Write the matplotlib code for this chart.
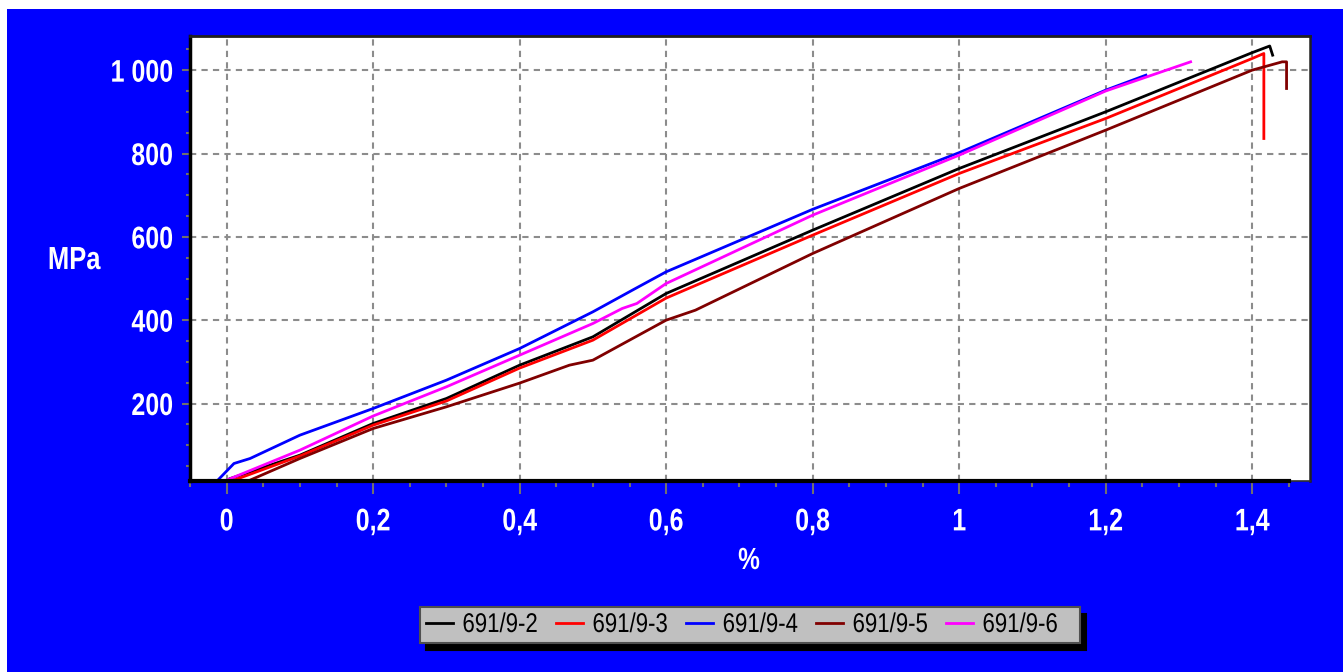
import numpy as np
import matplotlib
matplotlib.use("Agg")
import matplotlib.pyplot as plt
import matplotlib.patheffects as pe
from matplotlib.patches import Rectangle
from matplotlib.transforms import Affine2D

#####################       DATA          ##########################
# strain in %, stress in MPa
x_2 = [0.005, 0.1, 0.2, 0.3, 0.4, 0.5, 0.6, 0.8, 1.0, 1.2, 1.4, 1.424, 1.428]
y_2 = [20, 76, 152, 212, 292, 360, 464, 616, 764, 900, 1042, 1058, 1036]

x_3 = [0.01, 0.1, 0.2, 0.3, 0.4, 0.5, 0.6, 0.8, 1.0, 1.2, 1.4, 1.416, 1.416]
y_3 = [16, 74, 148, 206, 285, 352, 453, 604, 752, 884, 1028, 1040, 836]

x_4 = [-0.012, 0.01, 0.032, 0.1, 0.2, 0.3, 0.4, 0.5, 0.556, 0.6, 0.8, 1.0, 1.2, 1.255]
y_4 = [16, 56, 68, 124, 188, 256, 332, 420, 474, 516, 666, 802, 952, 988]

x_5 = [0.032, 0.1, 0.2, 0.3, 0.4, 0.468, 0.5, 0.6, 0.64, 0.8, 1.0, 1.2, 1.4, 1.441, 1.447, 1.447]
y_5 = [16, 68, 140, 192, 249, 292, 304, 400, 424, 560, 716, 856, 1000, 1020, 1020, 956]

x_6 = [0.0, 0.1, 0.2, 0.3, 0.4, 0.5, 0.54, 0.56, 0.6, 0.8, 1.0, 1.2, 1.316]
y_6 = [16, 88, 170, 240, 316, 392, 428, 440, 488, 652, 796, 950, 1020]

labels = ["691/9-2", "691/9-3", "691/9-4", "691/9-5", "691/9-6"]
colors = ["black", "#ff0000", "#0000ff", "#800000", "#ff00ff"]

x_ticks = [0, 0.2, 0.4, 0.6, 0.8, 1.0, 1.2, 1.4]
x_ticklabels = ["0", "0,2", "0,4", "0,6", "0,8", "1", "1,2", "1,4"]
y_ticks = [200, 400, 600, 800, 1000]
y_ticklabels = ["200", "400", "600", "800", "1 000"]


# no narrow font installed: squeeze the glyphs horizontally when drawing
class Squeeze(pe.AbstractPathEffect):
    def __init__(self, sx=0.8, anchor="center"):
        super().__init__()
        self.sx = sx
        self.anchor = anchor

    def draw_path(self, renderer, gc, tpath, affine, rgbFace=None):
        bb = tpath.get_extents(affine)
        x0 = {"left": bb.x0, "center": (bb.x0 + bb.x1) / 2, "right": bb.x1}[self.anchor]
        t = affine + Affine2D().translate(-x0, 0).scale(self.sx, 1).translate(x0, 0)
        renderer.draw_path(gc, tpath, t, rgbFace)


#####################       PLOT          ##########################
W, H = 1343, 672
fig = plt.figure(figsize=(W / 100, H / 100), dpi=100, facecolor="white")
fig.add_artist(Rectangle((7 / W, 0), 1, 1 - 9 / H, transform=fig.transFigure,
                         facecolor="#0000ff", edgecolor="none", zorder=-10))

ax = fig.add_axes([190 / W, 1 - 481 / H, (1310 - 190) / W, (481 - 36) / H])
ax.set_facecolor("white")

fnt = "Liberation Sans"

series = [(x_2, y_2), (x_3, y_3), (x_4, y_4), (x_5, y_5), (x_6, y_6)]
for (xs, ys), c, lab in zip(series, colors, labels):
    ax.plot(xs, ys, color=c, lw=2, label=lab, zorder=3)

ax.set_xlim(-0.045, 1.479)
ax.set_ylim(14, 1082)

ax.set_xticks(x_ticks)
ax.set_xticklabels(x_ticklabels)
ax.set_yticks(y_ticks)
ax.set_yticklabels(y_ticklabels)
ax.set_xticks(np.arange(-0.05, 1.5, 0.05), minor=True)
ax.set_yticks(np.arange(50, 1100, 50), minor=True)

for lbl in ax.get_xticklabels():
    lbl.set_path_effects([Squeeze(0.8, "center")])
for lbl in ax.get_yticklabels():
    lbl.set_path_effects([Squeeze(0.8, "right")])
for lbl in ax.get_xticklabels() + ax.get_yticklabels():
    lbl.set_family(fnt)
    lbl.set_fontweight("bold")
    lbl.set_fontsize(22.5)
    lbl.set_color("white")

ax.tick_params(axis="x", which="major", direction="out", length=9, width=1.5,
               color="#707070", pad=10)
ax.tick_params(axis="x", which="minor", direction="out", length=4, width=1.5,
               color="#707070")
ax.tick_params(axis="y", which="major", direction="out", length=6, width=1.5,
               color="#707070", pad=6)
ax.tick_params(axis="y", which="minor", direction="out", length=3, width=1.5,
               color="#707070")

ax.grid(True, which="major", color="#8c8c8c", lw=1.5, dashes=(3, 2.5), zorder=1)

ax.spines["left"].set_linewidth(2.5)
ax.spines["left"].set_color("black")
ax.spines["bottom"].set_linewidth(1.2)
ax.spines["bottom"].set_color("#303030")
ax.spines["top"].set_linewidth(2)
ax.spines["top"].set_color("#202020")
ax.spines["right"].set_linewidth(1.8)
ax.spines["right"].set_color("#202020")
# thick x axis line up to 1.45
ax.axhline(14, 0, (1.45 + 0.045) / (1.479 + 0.045), color="black", lw=3,
           clip_on=False, zorder=4)

fig.text(74 / W, 1 - 261 / H, "MPa", color="white", fontsize=23,
         fontweight="bold", family=fnt, ha="center", va="center",
         path_effects=[Squeeze(0.8, "center")])
fig.text(749 / W, 1 - 561 / H, "%", color="white", fontsize=22,
         fontweight="bold", family=fnt, ha="center", va="center",
         path_effects=[Squeeze(0.8, "center")])

leg = fig.legend(loc="center", bbox_to_anchor=(750 / W, 1 - 625 / H), ncol=5,
                 frameon=True, fancybox=False, facecolor="#c0c0c0",
                 edgecolor="#505050", framealpha=1,
                 shadow={"color": "black", "alpha": 1, "ox": 4.5, "oy": -5},
                 prop={"family": fnt, "size": 19.5},
                 handlelength=1.0, handletextpad=0.35, columnspacing=0.05,
                 borderpad=0.2, borderaxespad=0)
leg.get_frame().set_linewidth(1.5)
for ln in leg.get_lines():
    ln.set_linewidth(2)
for t in leg.get_texts():
    t.set_path_effects([Squeeze(0.82, "left")])

fig.savefig("out.png", dpi=100, facecolor=fig.get_facecolor())
